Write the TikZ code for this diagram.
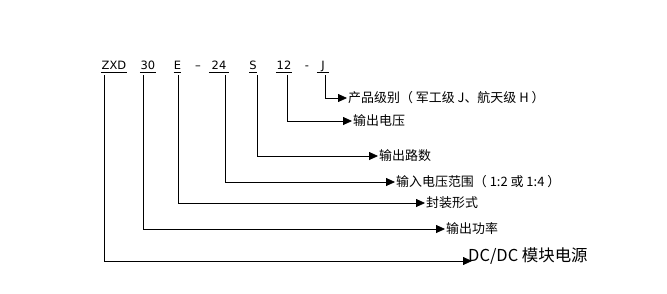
\documentclass[tikz,border=0pt]{standalone}
\usepackage{fontspec}
\setmainfont{DejaVu Sans}
\newfontfamily\cjk{Noto Sans CJK SC}
\usetikzlibrary{positioning, arrows.meta, calc}
\tikzset{
  code/.style ={anchor=base, inner xsep=0pt, inner ysep=3pt, text depth=0pt,
                font=\fontsize{11.5}{14}\selectfont},
  part/.style ={anchor=west, inner sep=1pt, font=\cjk\fontsize{13}{15}\selectfont},
  flow/.style ={-{Triangle[length=9pt, width=8pt]}, line width=0.8pt},
  uline/.style={line width=0.8pt},
}
\begin{document}
\begin{tikzpicture}[x=1bp, y=-1bp]
  \useasboundingbox (0,0) rectangle (667,293);
  % model number
  \node[code, minimum width=26bp] (zxd) at (114,69)   {ZXD};
  \node[code, minimum width=16bp] (pw)  at (148,69)   {30};
  \node[code] (pkg)  at (177.5,69) {E};
  \node[code] (dsha) at (198,69)   {–};
  \node[code, minimum width=20bp] (vin)  at (219,69) {24};
  \node[code] (ch)   at (253,69)   {S};
  \node[code, minimum width=16bp] (vout) at (284,69) {12};
  \node[code] (dshb) at (307,69)   {-};
  \node[code, minimum width=12bp] (grade) at (323,69) {J};
  \foreach \n in {zxd, pw, pkg, vin, ch, vout, grade}
    \draw[uline] (\n.south west) -- (\n.south east);
  % meanings
  \node[part] (lgrade) at (347,98)  {产品级别（ 军工级 J、航天级 H ）};
  \node[part] (lvout)  at (352,121) {输出电压};
  \node[part] (lch)    at (378,156) {输出路数};
  \node[part] (lvin)   at (395,182) {输入电压范围（ 1:2 或 1:4 ）};
  \node[part] (lpkg)   at (425,203) {封装形式};
  \node[part] (lpw)    at (445,229) {输出功率};
  \node[part, anchor=base west, font=\cjk\fontsize{16.5}{19}\selectfont] (lmod) at (467,261) {DC/DC 模块电源};
  % leaders
  \draw[flow] ([xshift=2pt, yshift=-3pt]grade.south) |- (lgrade.west);
  \draw[flow] ([xshift=3pt, yshift=-3pt]vout.south)  |- (lvout.west);
  \draw[flow] ([xshift=4pt, yshift=-3pt]ch.south)    |- (lch.west);
  \draw[flow] ([xshift=6pt, yshift=-3pt]vin.south)   |- (lvin.west);
  \draw[flow] ([xshift=0.5pt, yshift=-3pt]pkg.south) |- (lpkg.west);
  \draw[flow] ([xshift=-5pt, yshift=-3pt]pw.south)   |- (lpw.west);
  \draw[flow] ([xshift=-10pt, yshift=-3pt]zxd.south) |- ([xshift=5pt]lmod.base west);
\end{tikzpicture}
\end{document}
